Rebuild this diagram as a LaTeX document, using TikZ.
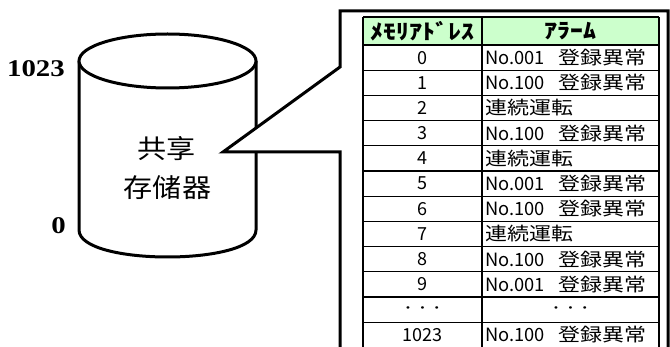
\documentclass[tikz,border=0pt]{standalone}
\usepackage{fontspec}
\usepackage{graphicx}
\setmainfont{Liberation Serif}
\newfontfamily\jpfont{Noto Sans CJK JP}
\newfontfamily\zhfont{Noto Sans CJK SC}
\definecolor{hdrgreen}{HTML}{CCFFCC}
\newcommand\hs[1]{\scalebox{1.2}[1]{#1}}
\newcommand\errA{\makebox[73pt][l]{No.001}\hs{登録異常}}
\newcommand\errB{\makebox[73pt][l]{No.100}\hs{登録異常}}
\newcommand\runT{\hs{連続運転}}
\newcommand\trow[3]{%
  \node[lcell] (a#1) at (422.5,{57.6+25.2*#1}) {#2};
  \node[rcell] (b#1) at (485,{57.6+25.2*#1}) {#3};}
\begin{document}
\begin{tikzpicture}[x=1pt,y=-1pt,
  thickline/.style={line width=3pt,line join=miter},
  lcell/.style={inner sep=0pt,font=\jpfont\fontsize{18}{18}\selectfont},
  rcell/.style={inner sep=0pt,anchor=west,font=\jpfont\fontsize{18.3}{18.3}\selectfont},
  hcell/.style={inner sep=0pt,font=\jpfont\bfseries\fontsize{21}{21}\selectfont},
  numlabel/.style={inner sep=0pt,font=\bfseries\fontsize{24}{24}\selectfont},
  cyltext/.style={inner sep=0pt,font=\zhfont\fontsize{26}{26}\selectfont}]
\useasboundingbox (0,0) rectangle (670,347);
\clip (0,0) rectangle (670,347);
% cylinder
\draw[thickline,fill=white] (79,61) -- (79,230) .. controls (79,266) and (256,266) .. (256,230) -- (256,61);
\draw[thickline,fill=white] (167.5,61) ellipse [x radius=88.5, y radius=27];
\node[cyltext] (t1) at (166.5,149) {\scalebox{1.12}[1]{共享}};
\node[cyltext] (t2) at (167.5,187.5) {\scalebox{1.12}[1]{存储器}};
\node[numlabel,anchor=east] (n1023) at (65,69) {\hs{1023}};
\node[numlabel,anchor=east] (n0) at (66,226) {\hs{0}};
% callout frame
\draw[thickline,fill=white] (340,370) -- (340,152) -- (223,152) -- (340,67) -- (340,11) -- (668,11) -- (668,370);
% table
\fill[hdrgreen] (363,17) rectangle (659,45);
\foreach \k in {0,...,12} {\draw[line width=1.2pt] (363,{45+25.2*\k}) -- (659,{45+25.2*\k});}
\draw[line width=1.4pt] (363,17) -- (659,17);
\foreach \xx in {363,482,659} {\draw[line width=1.6pt] (\xx,17) -- (\xx,370);}
\node[hcell] (h1) at (422.5,31) {\scalebox{1.23}[1]{ﾒﾓﾘｱﾄﾞﾚｽ}};
\node[hcell] (h2) at (570.5,31) {\scalebox{1.23}[1]{ｱﾗｰﾑ}};
\trow{0}{0}{\errA}
\trow{1}{1}{\errB}
\trow{2}{2}{\runT}
\trow{3}{3}{\errB}
\trow{4}{4}{\runT}
\trow{5}{5}{\errA}
\trow{6}{6}{\errB}
\trow{7}{7}{\runT}
\trow{8}{8}{\errB}
\trow{9}{9}{\errA}
\node[lcell] (a10) at (422.5,{57.6+25.2*10}) {\fontsize{12}{12}\selectfont\hs{・・・}};
\node[lcell] (b10) at (570.5,{57.6+25.2*10}) {\fontsize{12}{12}\selectfont\hs{・・・}};
\trow{11}{1023}{\errB}
\end{tikzpicture}
\end{document}
